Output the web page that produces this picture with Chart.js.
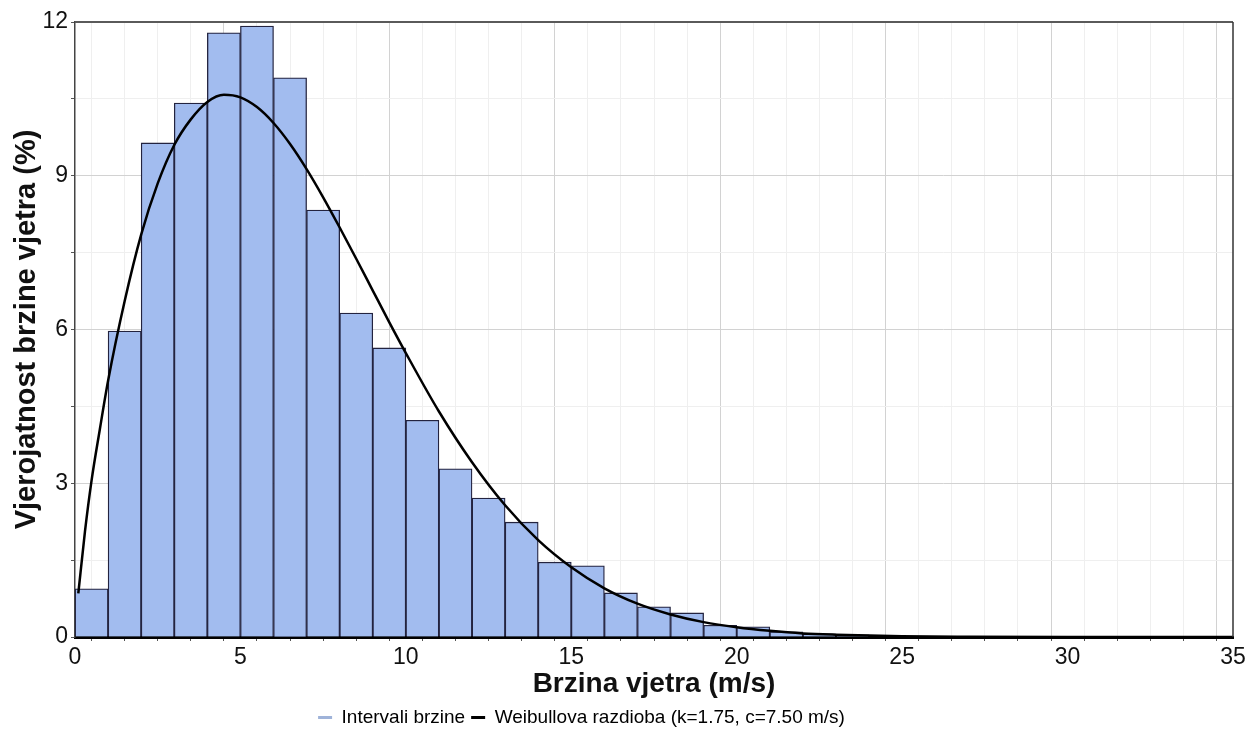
<!DOCTYPE html>
<html>
<head>
<meta charset="utf-8">
<script src="https://cdn.jsdelivr.net/npm/chart.js@4.4.1/dist/chart.umd.min.js"></script>
<style>
  html, body { margin: 0; padding: 0; background: #fff; }
  #wrap { width: 1249px; height: 733px; }
</style>
</head>
<body>
<div id="wrap"><canvas id="weibull"></canvas></div>
<script>
// histogram bins (m/s), 1 m/s wide, value = share in %
const binStarts = [0, 1, 2, 3, 4, 5, 6, 7, 8, 9, 10, 11, 12, 13, 14, 15, 16, 17, 18, 19, 20, 21, 22, 23];
const binValues = [0.94, 5.97, 9.64, 10.42, 11.79, 11.92, 10.91, 8.33, 6.32, 5.64, 4.23, 3.28, 2.71, 2.24, 1.46, 1.39, 0.86, 0.59, 0.47, 0.23, 0.2, 0.1, 0.06, 0.04];

// Weibull curve
const curveX = [0.1, 0.3, 0.5, 0.75, 1, 1.5, 2, 2.5, 3, 3.5, 4, 4.5, 5, 5.5, 6, 6.5, 7, 7.5, 8, 8.5, 9, 9.5, 10, 11, 12, 13, 14, 15, 16, 17, 18, 19, 20, 21, 22, 23, 24, 25, 27, 30, 35];
const curveY = [0.85, 2.05, 3.05, 4.05, 5.0, 6.55, 7.85, 8.85, 9.6, 10.1, 10.44, 10.58, 10.53, 10.34, 10.03, 9.62, 9.13, 8.58, 7.99, 7.38, 6.76, 6.14, 5.54, 4.4, 3.41, 2.57, 1.89, 1.36, 0.95, 0.65, 0.44, 0.29, 0.19, 0.12, 0.07, 0.045, 0.03, 0.015, 0.005, 0, 0];

const xTicks = [0, 5, 10, 15, 20, 25, 30, 35];
const yTicks = [0, 3, 6, 9, 12];

const labels = ['Intervali brzine', 'Weibullova razdioba (k=1.75, c=7.50 m/s)'];

const FONT = "'Liberation Sans', Arial, sans-serif";
const BAR_FILL = '#a2bcef';
const BAR_EDGE = '#23233f';

const isMajor = (list, c) => !!c.tick && list.includes(c.tick.value);

// top and right edge of the plot box, legend nudged like the original
const framePlugin = {
  id: 'frame',
  beforeDraw(chart) {
    const lg = chart.legend;
    if (lg && !lg._shifted) {
      lg.left -= 35;
      lg.right -= 35;
      lg.top += 4;
      lg.bottom += 4;
      lg._shifted = true;
    }
  },
  afterDraw(chart) {
    const { ctx, chartArea: a } = chart;
    ctx.save();
    ctx.strokeStyle = '#5a5a5a';
    ctx.lineWidth = 2;
    ctx.beginPath();
    ctx.moveTo(a.left, a.top);
    ctx.lineTo(a.right, a.top);
    ctx.stroke();
    ctx.strokeStyle = '#333';
    ctx.lineWidth = 1.5;
    ctx.beginPath();
    ctx.moveTo(a.right, a.top);
    ctx.lineTo(a.right, a.bottom);
    ctx.stroke();
    ctx.restore();
  }
};

const ctx = document.getElementById('weibull');

new Chart(ctx, {
  type: 'bar',
  data: {
    datasets: [
      {
        type: 'line',
        label: labels[1],
        data: curveX.map((x, i) => ({ x: x, y: curveY[i] })),
        borderColor: '#000',
        borderWidth: 2.5,
        pointRadius: 0,
        tension: 0.3,
        cubicInterpolationMode: 'monotone',
        fill: false,
        order: 0
      },
      {
        label: labels[0],
        data: binStarts.map((s, i) => ({ x: s + 0.5, y: binValues[i] })),
        backgroundColor: BAR_FILL,
        borderColor: BAR_EDGE,
        borderWidth: 1.3,
        barPercentage: 1,
        categoryPercentage: 1,
        order: 1
      }
    ]
  },
  options: {
    responsive: true,
    maintainAspectRatio: false,
    animation: false,
    layout: { padding: { top: 22, right: 16, bottom: 0, left: 0 } },
    plugins: {
      tooltip: { enabled: false },
      legend: {
        position: 'bottom',
        labels: {
          font: { family: FONT, size: 19 },
          color: '#111',
          usePointStyle: true,
          pointStyleWidth: 14,
          padding: 6,
          generateLabels: () => [
            { text: labels[0], fillStyle: '#9fb3d9', strokeStyle: '#9fb3d9', lineWidth: 3, pointStyle: 'line', datasetIndex: 1, hidden: false },
            { text: labels[1], fillStyle: '#000', strokeStyle: '#000', lineWidth: 3, pointStyle: 'line', datasetIndex: 0, hidden: false }
          ]
        }
      }
    },
    scales: {
      x: {
        type: 'linear',
        min: 0,
        max: 35,
        offset: false,
        afterFit: scale => { scale.height = 61; },
        ticks: {
          stepSize: 1,
          autoSkip: false,
          maxRotation: 0,
          padding: 3,
          color: '#111',
          font: { family: FONT, size: 23 },
          callback: v => xTicks.includes(v) ? String(v) : ''
        },
        grid: {
          color: c => isMajor(xTicks, c) ? '#d2d2d2' : '#efefef',
          tickColor: '#555',
          tickLength: 4
        },
        border: { color: '#000', width: 3 },
        title: {
          display: true,
          text: 'Brzina vjetra (m/s)',
          color: '#111',
          font: { family: FONT, size: 28, weight: 'bold', lineHeight: 1 },
          padding: { top: -4, bottom: 0 }
        }
      },
      y: {
        min: 0,
        max: 12,
        afterFit: scale => { scale.width = 75; },
        ticks: {
          stepSize: 1.5,
          autoSkip: false,
          padding: 3,
          color: '#111',
          font: { family: FONT, size: 23 },
          callback: v => yTicks.includes(v) ? String(v) : ''
        },
        grid: {
          color: c => isMajor(yTicks, c) ? '#d2d2d2' : '#efefef',
          tickColor: '#555',
          tickLength: 4
        },
        border: { color: '#444', width: 1.5 },
        title: {
          display: true,
          text: 'Vjerojatnost brzine vjetra (%)',
          color: '#111',
          font: { family: FONT, size: 29, weight: 'bold', lineHeight: 1 },
          padding: { top: 12, bottom: 0 }
        }
      }
    }
  },
  plugins: [framePlugin]
});
</script>
</body>
</html>
